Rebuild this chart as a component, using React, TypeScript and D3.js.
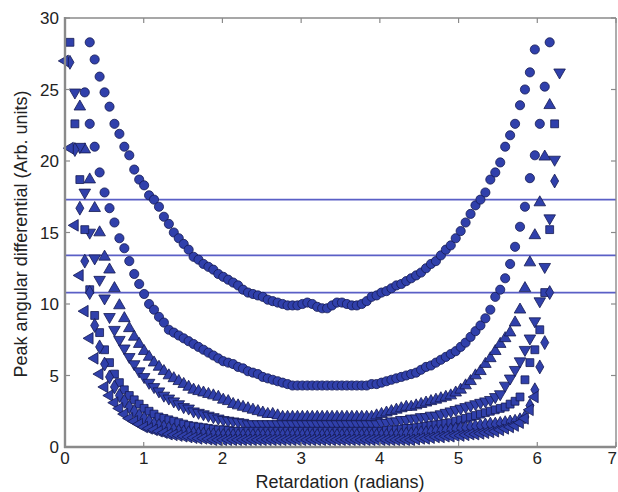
import React, { useEffect, useRef } from "react";
import * as d3 from "d3";

const WIDTH = 618;
const HEIGHT = 492;
const margin = { top: 18, right: 2, bottom: 45, left: 65 };

// samples are spaced 2*pi/100 apart in retardation
const STEP = (2 * Math.PI) / 100;

const xTicks = [0, 1, 2, 3, 4, 5, 6, 7];
const yTicks = [0, 5, 10, 15, 20, 25, 30];
const refLines = [17.3, 13.4, 10.8];

// top curve (circles), first sample index 5
const s1Start = 5;
const s1Values = [
  28.3, 27.1, 25.9, 24.8, 23.8, 22.6, 21.9, 21.0, 20.4, 19.4,
  18.7, 18.3, 17.6, 17.3, 16.8, 16.1, 15.6, 15.0, 14.6, 14.2,
  13.8, 13.3, 13.1, 12.8, 12.6, 12.4, 12.1, 11.9, 11.7, 11.5,
  11.3, 11.0, 10.8, 10.7, 10.6, 10.5, 10.3, 10.2, 10.1, 10.0,
  9.9, 9.9, 9.9, 10.0, 10.1, 10.0, 9.8, 9.7, 9.7, 9.9,
  10.1, 10.1, 10.0, 9.9, 9.9, 10.0, 10.2, 10.5, 10.6, 10.8,
  10.9, 11.1, 11.3, 11.4, 11.6, 11.8, 12.0, 12.2, 12.5, 12.8,
  13.0, 13.4, 13.8, 14.1, 14.6, 15.1, 15.7, 16.3, 16.9, 17.3,
  17.8, 18.7, 19.2, 19.9, 21.0, 21.8, 22.6, 23.9, 25.0, 26.2, 27.8,
];

// second curve (circles)
const s2Start = 4;
const s2Values = [
  24.8, 22.6, 21.0, 19.2, 17.8, 16.7, 15.7, 14.6, 13.9, 13.0,
  12.1, 11.4, 10.7, 10.0, 9.6, 9.1, 8.7, 8.2, 8.0, 7.8,
  7.6, 7.4, 7.2, 7.0, 6.8, 6.6, 6.4, 6.2, 6.0, 5.9,
  5.8, 5.6, 5.5, 5.3, 5.2, 5.1, 4.9, 4.8, 4.7, 4.6,
  4.5, 4.4, 4.3, 4.3, 4.3, 4.3, 4.3, 4.3, 4.3, 4.3,
  4.3, 4.3, 4.3, 4.3, 4.3, 4.3, 4.3, 4.3, 4.4, 4.4,
  4.5, 4.6, 4.7, 4.8, 4.9, 5.0, 5.1, 5.2, 5.4, 5.6,
  5.7, 5.9, 6.1, 6.3, 6.5, 6.7, 7.0, 7.3, 7.7, 8.1,
  8.5, 9.0, 9.6, 10.5, 11.0, 11.8, 12.8, 14.0, 15.4, 16.8,
  18.8, 20.4, 22.6, 25.2, 28.3,
];

// third curve (up triangles)
const s3Start = 3;
const s3Values = [
  23.8, 20.8, 18.7, 16.7, 15.0, 13.3, 12.4, 11.1, 9.9, 9.0,
  8.3, 7.7, 7.2, 6.7, 6.3, 5.9, 5.6, 5.3, 5.0, 4.8,
  4.6, 4.4, 4.2, 4.0, 3.9, 3.8, 3.7, 3.6, 3.5, 3.3,
  3.2, 3.0, 2.9, 2.8, 2.7, 2.6, 2.5, 2.4, 2.3, 2.3,
  2.2, 2.1, 2.1, 2.1, 2.1, 2.1, 2.1, 2.1, 2.1, 2.1,
  2.1, 2.1, 2.1, 2.1, 2.1, 2.1, 2.1, 2.1, 2.1, 2.1,
  2.2, 2.3, 2.4, 2.5, 2.6, 2.7, 2.8, 2.8, 2.9, 3.0,
  3.1, 3.2, 3.3, 3.4, 3.5, 3.6, 3.8, 4.0, 4.3, 4.6,
  5.0, 5.3, 5.8, 6.2, 6.7, 7.2, 7.6, 8.0, 8.7, 9.6,
  11.1, 12.9, 14.8, 17.1, 20.3, 23.9,
];

// fourth curve (down triangles)
const s4Start = 2;
const s4Values = [
  24.8, 21.0, 17.8, 15.0, 13.2, 11.7, 10.4, 9.1, 8.2, 7.5,
  6.9, 6.3, 5.8, 5.3, 4.9, 4.5, 4.2, 3.9, 3.6, 3.4,
  3.2, 3.0, 2.8, 2.7, 2.5, 2.4, 2.3, 2.2, 2.1, 2.0,
  1.9, 1.85, 1.8, 1.75, 1.7, 1.6, 1.6, 1.6, 1.6, 1.6,
  1.6, 1.6, 1.6, 1.6, 1.6, 1.6, 1.6, 1.6, 1.6, 1.6,
  1.6, 1.6, 1.6, 1.6, 1.6, 1.6, 1.6, 1.6, 1.6, 1.6,
  1.6, 1.6, 1.7, 1.7, 1.8, 1.8, 1.9, 1.9, 2.0, 2.0,
  2.1, 2.1, 2.2, 2.2, 2.3, 2.4, 2.5, 2.6, 2.7, 2.8,
  2.9, 3.0, 3.1, 3.2, 3.3, 3.5, 3.7, 4.3, 4.8, 5.4,
  6.0, 6.8, 7.6, 8.8, 10.2, 12.6, 16.0, 20.1, 26.2,
];

// fifth curve (squares)
const s5Start = 1;
const s5Values = [
  28.3, 22.6, 18.7, 15.2, 11.0, 9.2, 8.0, 6.8, 5.9, 5.1,
  4.5, 4.0, 3.6, 3.3, 3.0, 2.7, 2.5, 2.3, 2.1, 2.0,
  1.9, 1.8, 1.7, 1.6, 1.5, 1.45, 1.4, 1.35, 1.3, 1.25,
  1.2, 1.2, 1.15, 1.1, 1.1, 1.1, 1.1, 1.1, 1.1, 1.1,
  1.1, 1.1, 1.1, 1.1, 1.1, 1.1, 1.1, 1.1, 1.1, 1.1,
  1.1, 1.1, 1.1, 1.1, 1.1, 1.1, 1.1, 1.1, 1.1, 1.1,
  1.1, 1.1, 1.1, 1.1, 1.15, 1.2, 1.2, 1.25, 1.3, 1.3,
  1.35, 1.4, 1.45, 1.5, 1.55, 1.6, 1.65, 1.7, 1.8, 1.9,
  2.0, 2.1, 2.2, 2.3, 2.4, 2.5, 2.6, 2.7, 2.8, 3.0,
  3.2, 3.5, 4.7, 5.9, 6.8, 8.2, 10.8, 15.2, 22.6,
];

// sixth curve (diamonds)
const s6Start = 1;
const s6Values = [
  26.9, 20.8, 16.7, 13.0, 10.8, 8.5, 7.0, 5.8, 4.9, 4.2,
  3.6, 3.2, 2.8, 2.5, 2.2, 2.0, 1.8, 1.6, 1.5, 1.4,
  1.3, 1.2, 1.1, 1.05, 1.0, 0.95, 0.9, 0.9, 0.85, 0.85,
  0.8, 0.8, 0.8, 0.8, 0.8, 0.8, 0.8, 0.8, 0.8, 0.8,
  0.8, 0.8, 0.8, 0.8, 0.8, 0.8, 0.8, 0.8, 0.8, 0.8,
  0.8, 0.8, 0.8, 0.8, 0.8, 0.8, 0.8, 0.8, 0.8, 0.8,
  0.8, 0.8, 0.8, 0.8, 0.8, 0.8, 0.8, 0.85, 0.9, 0.9,
  0.95, 1.0, 1.0, 1.05, 1.1, 1.1, 1.15, 1.2, 1.25, 1.3,
  1.35, 1.4, 1.45, 1.5, 1.55, 1.6, 1.6, 1.65, 1.7, 1.75,
  1.8, 1.9, 2.1, 2.9, 4.0, 5.6, 7.3, 10.8, 18.6,
];

// lowest curve (left triangles)
const s7Start = 0;
const s7Values = [
  27.0, 20.9, 15.5, 12.0, 9.5, 7.6, 6.2, 5.1, 4.2, 3.6,
  3.1, 2.7, 2.3, 2.0, 1.8, 1.6, 1.4, 1.3, 1.2, 1.1,
  1.0, 0.9, 0.85, 0.8, 0.75, 0.7, 0.65, 0.6, 0.6, 0.55,
  0.5, 0.5, 0.5, 0.5, 0.5, 0.5, 0.5, 0.5, 0.5, 0.5,
  0.5, 0.5, 0.5, 0.5, 0.5, 0.5, 0.5, 0.5, 0.5, 0.5,
  0.5, 0.5, 0.5, 0.5, 0.5, 0.5, 0.5, 0.5, 0.5, 0.5,
  0.5, 0.5, 0.5, 0.5, 0.5, 0.5, 0.5, 0.5, 0.5, 0.5,
  0.5, 0.55, 0.6, 0.6, 0.65, 0.7, 0.7, 0.75, 0.75, 0.8,
  0.8, 0.85, 0.9, 0.9, 0.95, 1.0, 1.05, 1.1, 1.2, 1.3,
  1.4, 1.5, 1.7, 2.0, 2.6, 3.5,
];

const App: React.FC = () => {
  const svgRef = useRef<SVGSVGElement>(null);

  useEffect(() => {
    if (!svgRef.current) return;
    const svg = d3.select(svgRef.current);
    svg.selectAll("*").remove();

    const x0 = margin.left;
    const x1 = WIDTH - margin.right;
    const y0 = HEIGHT - margin.bottom;
    const y1 = margin.top;

    const x = d3.scaleLinear().domain([0, 7]).range([x0, x1]);
    const y = d3.scaleLinear().domain([0, 30]).range([y0, y1]);

    const font = "'Liberation Sans', Arial, Helvetica, sans-serif";
    const frame = "#8a8a8a";

    svg.append("rect").attr("width", WIDTH).attr("height", HEIGHT).attr("fill", "#fff");

    // reference lines
    svg
      .selectAll("line.ref")
      .data(refLines)
      .enter()
      .append("line")
      .attr("class", "ref")
      .attr("x1", x(0))
      .attr("x2", x(7))
      .attr("y1", (d) => y(d))
      .attr("y2", (d) => y(d))
      .attr("stroke", "#5a5fc6")
      .attr("stroke-width", 1.8);

    // series
    const series = [
      { start: s1Start, values: s1Values, type: d3.symbolCircle, size: 66, rot: 0 },
      { start: s2Start, values: s2Values, type: d3.symbolCircle, size: 66, rot: 0 },
      { start: s3Start, values: s3Values, type: d3.symbolTriangle, size: 58, rot: 0 },
      { start: s4Start, values: s4Values, type: d3.symbolTriangle, size: 58, rot: 180 },
      { start: s5Start, values: s5Values, type: d3.symbolSquare, size: 62, rot: 0 },
      { start: s6Start, values: s6Values, type: d3.symbolDiamond, size: 56, rot: 0 },
      { start: s7Start, values: s7Values, type: d3.symbolTriangle, size: 58, rot: -90 },
    ];

    const marks = svg.append("g");
    series.forEach((s) => {
      const path = d3.symbol().type(s.type).size(s.size)();
      marks
        .append("g")
        .selectAll("path")
        .data(s.values.map((v, i) => ({ x: (s.start + i) * STEP, y: v })))
        .enter()
        .append("path")
        .attr("d", path as string)
        .attr(
          "transform",
          (d) => `translate(${x(d.x)},${y(d.y)}) rotate(${s.rot})`
        )
        .attr("fill", "#3040ab")
        .attr("stroke", "#151a52")
        .attr("stroke-width", 0.8);
    });

    // frame
    svg
      .append("line")
      .attr("x1", x0).attr("x2", x1).attr("y1", y1).attr("y2", y1)
      .attr("stroke", frame).attr("stroke-width", 1.6);
    svg
      .append("line")
      .attr("x1", x1).attr("x2", x1).attr("y1", y1).attr("y2", y0)
      .attr("stroke", frame).attr("stroke-width", 1.4);
    svg
      .append("line")
      .attr("x1", x0).attr("x2", x0).attr("y1", y1 - 1).attr("y2", y0 + 1)
      .attr("stroke", frame).attr("stroke-width", 2.4);
    svg
      .append("line")
      .attr("x1", x0 - 1).attr("x2", x1).attr("y1", y0).attr("y2", y0)
      .attr("stroke", frame).attr("stroke-width", 2.4);

    // ticks (inward, all four sides)
    const tickLen = 5;
    const tg = svg.append("g").attr("stroke", frame).attr("stroke-width", 1.2);
    xTicks.forEach((t) => {
      tg.append("line").attr("x1", x(t)).attr("x2", x(t)).attr("y1", y0).attr("y2", y0 - tickLen);
      tg.append("line").attr("x1", x(t)).attr("x2", x(t)).attr("y1", y1).attr("y2", y1 + tickLen);
    });
    yTicks.forEach((t) => {
      tg.append("line").attr("x1", x0).attr("x2", x0 + tickLen).attr("y1", y(t)).attr("y2", y(t));
      tg.append("line").attr("x1", x1).attr("x2", x1 - tickLen).attr("y1", y(t)).attr("y2", y(t));
    });

    // tick labels (last one pulled in so it stays on the page)
    svg
      .selectAll("text.xt")
      .data(xTicks)
      .enter()
      .append("text")
      .attr("x", (d, i) => (i === xTicks.length - 1 ? WIDTH - 1 : x(d)))
      .attr("y", y0 + 17)
      .attr("text-anchor", (d, i) => (i === xTicks.length - 1 ? "end" : "middle"))
      .style("font-family", font)
      .style("font-size", "17px")
      .attr("fill", "#222")
      .text((d) => d);

    svg
      .selectAll("text.yt")
      .data(yTicks)
      .enter()
      .append("text")
      .attr("x", x0 - 6)
      .attr("y", (d) => y(d) + 6)
      .attr("text-anchor", "end")
      .style("font-family", font)
      .style("font-size", "17px")
      .attr("fill", "#222")
      .text((d) => d);

    // axis titles
    svg
      .append("text")
      .attr("x", 340)
      .attr("y", 488)
      .attr("text-anchor", "middle")
      .style("font-family", font)
      .style("font-size", "18px")
      .attr("fill", "#222")
      .text("Retardation (radians)");

    svg
      .append("text")
      .attr("transform", `translate(27, 234) rotate(-90)`)
      .attr("text-anchor", "middle")
      .style("font-family", font)
      .style("font-size", "18px")
      .attr("fill", "#222")
      .text("Peak angular differential (Arb. units)");
  }, []);

  return (
    <svg
      ref={svgRef}
      width={WIDTH}
      height={HEIGHT}
      style={{ position: "absolute", left: 0, top: 0, display: "block" }}
    />
  );
};

export default App;
